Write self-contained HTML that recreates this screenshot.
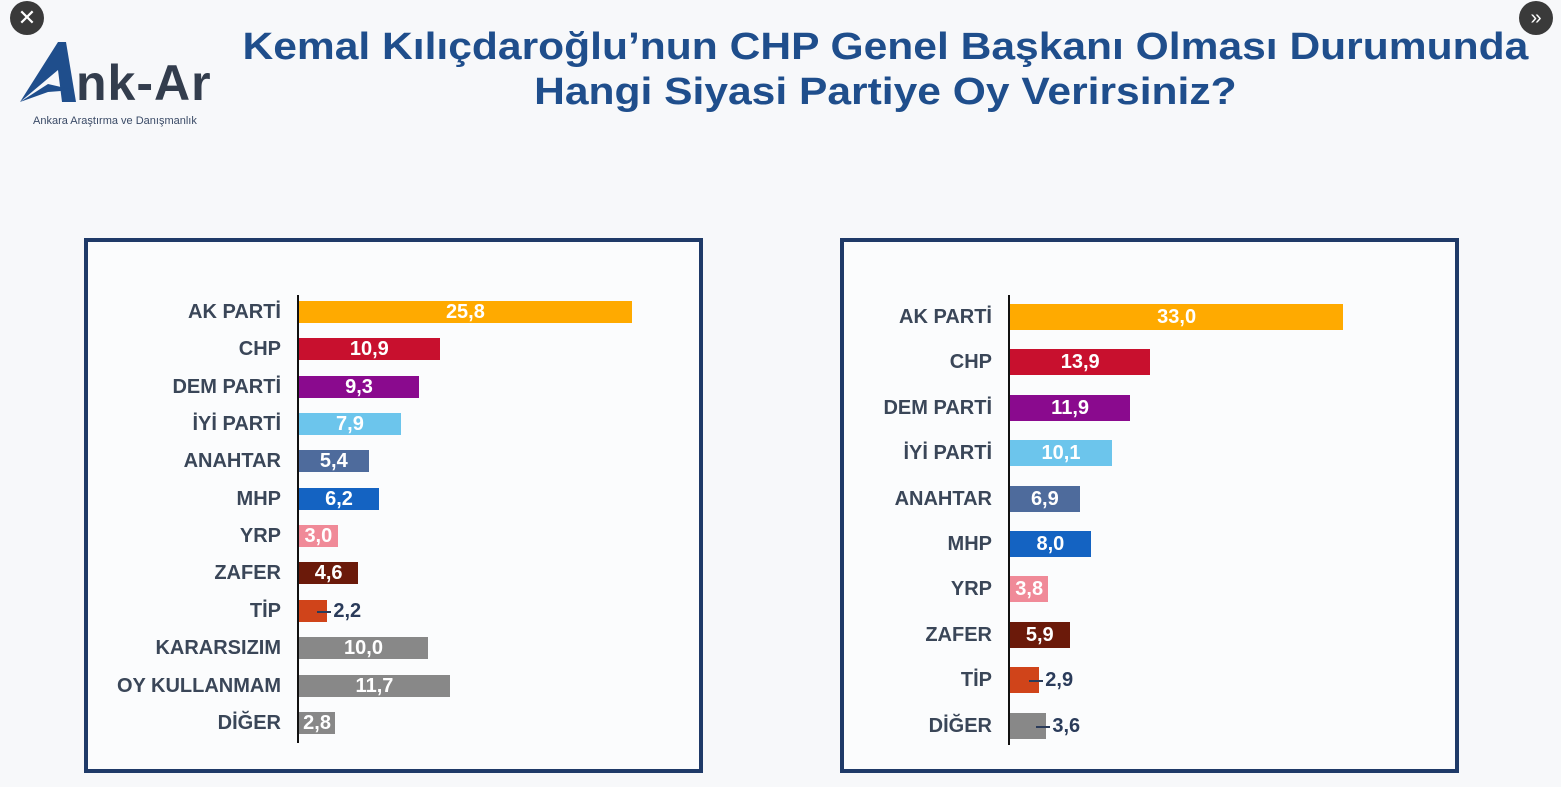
<!DOCTYPE html>
<html><head><meta charset="utf-8"><style>
body{margin:0;width:1561px;height:787px;overflow:hidden;background:#f7f8fa;font-family:"Liberation Sans",sans-serif;position:relative}
.a{position:absolute}
.box{position:absolute;border:4px solid #1f3a68;box-sizing:border-box;background:rgba(255,255,255,0.55)}
.lab{position:absolute;text-align:right;font-weight:bold;color:#3a4658;font-size:20px;white-space:nowrap}
.bar{position:absolute}
.val{position:absolute;color:#fff;font-weight:bold;font-size:20px;text-align:center;white-space:nowrap}
.out{color:#2a3b5a}
.title{position:absolute;left:230px;width:1310px;text-align:center;color:#1f4e8c;font-weight:bold;font-size:38px;line-height:45px;transform:scaleX(1.12);transform-origin:652px 0}
.circ{position:absolute;width:34px;height:34px;border-radius:50%;background:#3a3a3a;color:#fff;text-align:center;line-height:34px;font-size:22px}
</style></head><body>
<div class="circ" style="left:10px;top:1px">✕</div>
<div class="circ" style="left:1519px;top:1px;font-size:20px">»</div>
<div class="title" style="top:25px">Kemal Kılıçdaroğlu’nun CHP Genel Başkanı Olması Durumunda<br>Hangi Siyasi Partiye Oy Verirsiniz?</div>
<svg class="a" style="left:18px;top:40px" width="60" height="66"><path d="M2 62 L40 2 L48 2 L58 62 L44 62 L40 30 Z" fill="#1f4e8c"/><path d="M2 62 L30 44 L56 50 L30 52 Z" fill="#1f4e8c"/></svg>
<div class="a" style="left:76px;top:54px;font-size:50px;font-weight:bold;color:#333d4d;letter-spacing:1px">nk-Ar</div>
<div class="a" style="left:33px;top:115px;font-size:11px;color:#3a4a66">Ankara Araştırma ve Danışmanlık</div>
<div class="box" style="left:84px;top:238px;width:619px;height:535px"></div>
<div class="box" style="left:840px;top:238px;width:619px;height:535px"></div>
<div id="c"></div>
<script>
var C={ak:"#FFAA00",chp:"#C8102E",dem:"#8A0A8E",iyi:"#6CC5EC",an:"#4E6B9C",mhp:"#1463C2",yrp:"#F08A98",zf:"#6B1A0A",tip:"#D0441A",g:"#888888"};
function chart(ax,top,bottom,y0,step,h,scale,data){
 var s='<div class="a" style="left:'+ax+'px;top:'+top+'px;width:2px;height:'+(bottom-top)+'px;background:#111"></div>';
 data.forEach(function(d,i){
  var y=y0+i*step, w=d[1]*scale, x=ax+2;
  s+='<div class="lab" style="right:'+(1561-ax+16)+'px;top:'+(y-11)+'px">'+d[0]+'</div>';
  s+='<div class="bar" style="left:'+x+'px;top:'+(y-h/2)+'px;width:'+w+'px;height:'+h+'px;background:'+C[d[2]]+'"></div>';
  var v=d[1].toFixed(1).replace('.',',');
  if(d[3]){
   s+='<div class="a" style="left:'+(x+w-10)+'px;top:'+y+'px;width:14px;height:2px;background:#2a3b5a"></div>';
   s+='<div class="val out" style="left:'+(x+w+6)+'px;top:'+(y-11)+'px">'+v+'</div>';
  } else s+='<div class="val" style="left:'+x+'px;width:'+w+'px;top:'+(y-11)+'px">'+v+'</div>';
 });
 return s;
}
var L=[["AK PARTİ",25.8,"ak"],["CHP",10.9,"chp"],["DEM PARTİ",9.3,"dem"],["İYİ PARTİ",7.9,"iyi"],["ANAHTAR",5.4,"an"],["MHP",6.2,"mhp"],["YRP",3.0,"yrp"],["ZAFER",4.6,"zf"],["TİP",2.2,"tip",1],["KARARSIZIM",10.0,"g"],["OY KULLANMAM",11.7,"g"],["DİĞER",2.8,"g"]];
var R=[["AK PARTİ",33.0,"ak"],["CHP",13.9,"chp"],["DEM PARTİ",11.9,"dem"],["İYİ PARTİ",10.1,"iyi"],["ANAHTAR",6.9,"an"],["MHP",8.0,"mhp"],["YRP",3.8,"yrp"],["ZAFER",5.9,"zf"],["TİP",2.9,"tip",1],["DİĞER",3.6,"g",1]];
document.getElementById('c').innerHTML=chart(297,295,743,312,37.35,22,12.9,L)+chart(1008,295,745,317,45.4,26,10.1,R);
</script>
</body></html>
